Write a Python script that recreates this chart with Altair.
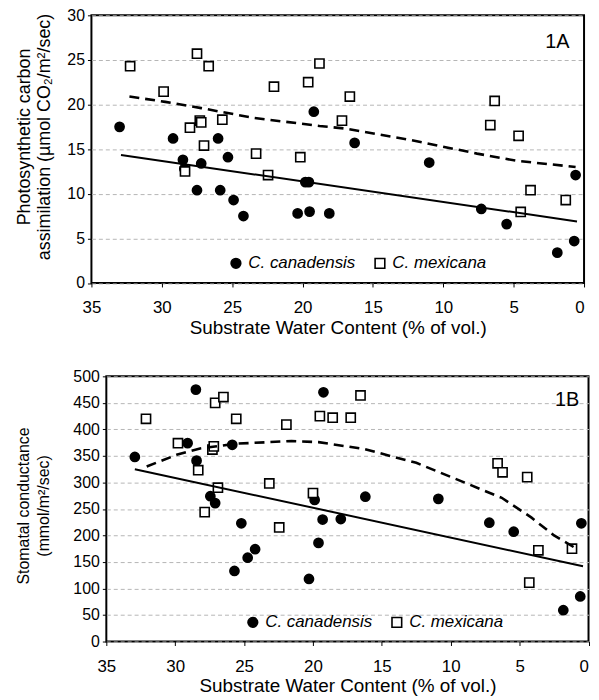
import altair as alt
import pandas as pd

FONT = "Liberation Sans"
species = ["C. canadensis", "C. mexicana"]

# ---- Panel 1A: photosynthetic carbon assimilation ----
a_can_x = [33.0, 29.2, 28.5, 28.4, 27.2, 27.5, 26.0, 25.3, 25.85, 24.9, 24.2, 20.35,
           19.5, 19.8, 19.55, 19.2, 16.3, 11.0, 18.1, 7.3, 5.5, 0.6, 0.7, 1.9]
a_can_y = [17.5, 16.2, 13.8, 12.8, 13.4, 10.4, 16.2, 14.1, 10.4, 9.3, 7.5, 7.8,
           8.0, 11.3, 11.3, 19.2, 15.7, 13.5, 7.8, 8.3, 6.6, 12.1, 4.7, 3.4]
a_mex_x = [32.25, 29.87, 27.5, 26.67, 28.0, 27.3, 27.2, 27.0, 25.7, 28.35, 23.3, 22.45,
           22.03, 20.16, 19.6, 18.8, 16.64, 17.2, 6.35, 6.66, 4.65, 3.8, 4.5, 1.3]
a_mex_y = [24.3, 21.45, 25.7, 24.3, 17.4, 18.2, 18.0, 15.4, 18.3, 12.5, 14.5, 12.1,
           22.0, 14.1, 22.5, 24.6, 20.9, 18.2, 20.4, 17.7, 16.5, 10.4, 7.96, 9.3]
a_solid_x = [32.9, 0.5]
a_solid_y = [14.35, 6.9]
a_dash_x = [32.3, 29.75, 27.2, 23.45, 18.8, 16.9, 12.25, 7.6, 4.8, 0.6]
a_dash_y = [20.9, 20.3, 19.6, 18.5, 17.6, 17.3, 16.0, 14.5, 13.7, 13.0]

# ---- Panel 1B: stomatal conductance ----
b_can_x = [32.93, 28.5, 29.1, 28.45, 27.45, 27.1, 25.86, 25.2, 25.7, 24.74, 24.2, 20.29,
           19.88, 19.6, 19.3, 19.24, 17.98, 16.2, 10.9, 7.2, 5.43, 0.52, 0.6, 1.83]
b_can_y = [348, 475, 374, 341, 274, 261, 371, 223, 133, 158, 174, 118,
           267, 186, 230, 470, 231, 273, 269, 224, 207, 223, 85, 59]
b_mex_x = [32.12, 29.8, 28.33, 27.86, 27.3, 27.2, 27.1, 26.5, 26.9, 25.57, 23.17, 22.45,
           21.93, 20.0, 19.5, 18.57, 17.26, 16.55, 6.6, 6.24, 4.45, 3.64, 4.3, 1.2]
b_mex_y = [420, 374, 323, 244, 362, 368, 450, 461, 290, 420, 298, 215,
           409, 280, 425, 422, 422, 464, 336, 319, 310, 172, 111, 175]
b_solid_x = [32.93, 0.4]
b_solid_y = [325, 142]
b_dash_x = [32.07, 29.9, 28.2, 25.6, 21.55, 19.6, 16.3, 12.5, 8.93, 6.3, 4.16, 2.5, 1.07]
b_dash_y = [330, 352, 364, 373, 378, 376, 363, 337, 299, 271, 234, 200, 178]

x_ticks = [35, 30, 25, 20, 15, 10, 5, 0]
a_ticks = [0, 5, 10, 15, 20, 25, 30]
b_ticks = [0, 50, 100, 150, 200, 250, 300, 350, 400, 450, 500]

a_label = {"x": [1.9], "y": [27.0], "t": ["1A"]}
b_label = {"x": [1.55], "y": [456], "t": ["1B"]}

x_title = "Substrate Water Content (% of vol.)"
a_title = ["Photosynthetic carbon", "assimilation (\u00b5mol CO\u2082/m\u00b2/sec)"]
b_title = ["Stomatal conductance", "(mmol/m\u00b2/sec)"]


def pts_frame(cx, cy, mx, my):
    return pd.DataFrame({
        "x": cx + mx,
        "y": cy + my,
        "species": [species[0]] * len(cx) + [species[1]] * len(mx),
    })


def panel(pts, sx, sy, dx, dy, lab, ydom, yticks, ytitle, w, h, legx, legy, tpad, tsize, ty):
    xs = alt.Scale(domain=[35, 0], nice=False)
    ys = alt.Scale(domain=ydom, nice=False)
    xax = alt.Axis(values=x_ticks, title=x_title, grid=False, tickSize=4, labelPadding=13,
                   labelFlush=False, labelFontSize=17, titleFontSize=19, titlePadding=2.5,
                   labelAlign={"condition": {"test": "datum.value == 0", "value": "right"},
                               "value": "center"},
                   labelFont=FONT, titleFont=FONT)
    yax = alt.Axis(values=yticks, title=ytitle, grid=True, tickSize=4, labelPadding=3,
                   labelFontSize=16, titleFontSize=tsize, titlePadding=tpad, titleLineHeight=20,
                   titleY=ty, labelFont=FONT, titleFont=FONT)
    X = alt.X("x:Q", scale=xs, axis=xax, title=x_title)
    Y = alt.Y("y:Q", scale=ys, axis=yax, title=ytitle)
    leg = alt.Legend(orient="none", legendX=legx, legendY=legy, direction="horizontal",
                     title=None, labelFont=FONT, labelFontSize=17, labelFontStyle="italic",
                     labelColor="black", symbolSize=95, symbolStrokeWidth=1.6,
                     columnPadding=16, labelOffset=4)
    points = alt.Chart(pts).mark_point(size=85, strokeWidth=1.6,
                                       opacity=1, fillOpacity=1).encode(
        x=X, y=Y,
        shape=alt.Shape("species:N", scale=alt.Scale(domain=species, range=["circle", "square"]), legend=leg),
        fill=alt.Fill("species:N", scale=alt.Scale(domain=species, range=["black", "white"]), legend=leg),
        stroke=alt.Stroke("species:N", scale=alt.Scale(domain=species, range=["black", "black"]), legend=leg),
    )
    solid = alt.Chart(pd.DataFrame({"x": sx, "y": sy})).mark_line(
        color="black", strokeWidth=2).encode(x=X, y=Y)
    dashed = alt.Chart(pd.DataFrame({"x": dx, "y": dy})).mark_line(
        color="black", strokeWidth=2.6, strokeDash=[10, 6]).encode(x=X, y=Y)
    text = alt.Chart(pd.DataFrame(lab)).mark_text(
        font=FONT, fontSize=20, color="black", align="center", baseline="middle").encode(
        x=X, y=Y, text="t:N")
    return alt.layer(points, dashed, solid, text).properties(width=w, height=h)


def spacer(w):
    return alt.Chart(pd.DataFrame({"v": [0]})).mark_point(opacity=0).encode(
        x=alt.value(0), y=alt.value(0)
    ).properties(width=w, height=1, view=alt.ViewBackground(strokeOpacity=0, strokeWidth=0))


top = panel(pts_frame(a_can_x, a_can_y, a_mex_x, a_mex_y), a_solid_x, a_solid_y,
            a_dash_x, a_dash_y, a_label, [0, 30], a_ticks, a_title, 496, 269.5, 218, 241,
            13.5, 18, 122)
bottom = panel(pts_frame(b_can_x, b_can_y, b_mex_x, b_mex_y), b_solid_x, b_solid_y,
               b_dash_x, b_dash_y, b_label, [0, 500], b_ticks, b_title, 485.5, 267, 235, 239,
               21.5, 16, 130)

row1 = alt.hconcat(spacer(1), top, spacing=0)
row2 = alt.hconcat(spacer(1), bottom, spacing=0)

chart = alt.vconcat(row1, row2, spacing=29.5).properties(
    padding={"top": -4, "left": 0, "right": 0, "bottom": 0}
).resolve_scale(shape="independent", fill="independent", stroke="independent"
).resolve_legend(shape="independent", fill="independent", stroke="independent"
).configure_view(stroke="black", strokeWidth=2).configure_axis(
    domain=False, tickColor="black", tickWidth=1, labelColor="black", titleColor="black",
    titleFontWeight="normal", gridColor="#b5b5b5", gridDash=[4, 3], gridWidth=1
)

chart.save("out.html", embed_options={"renderer": "svg", "actions": False})
